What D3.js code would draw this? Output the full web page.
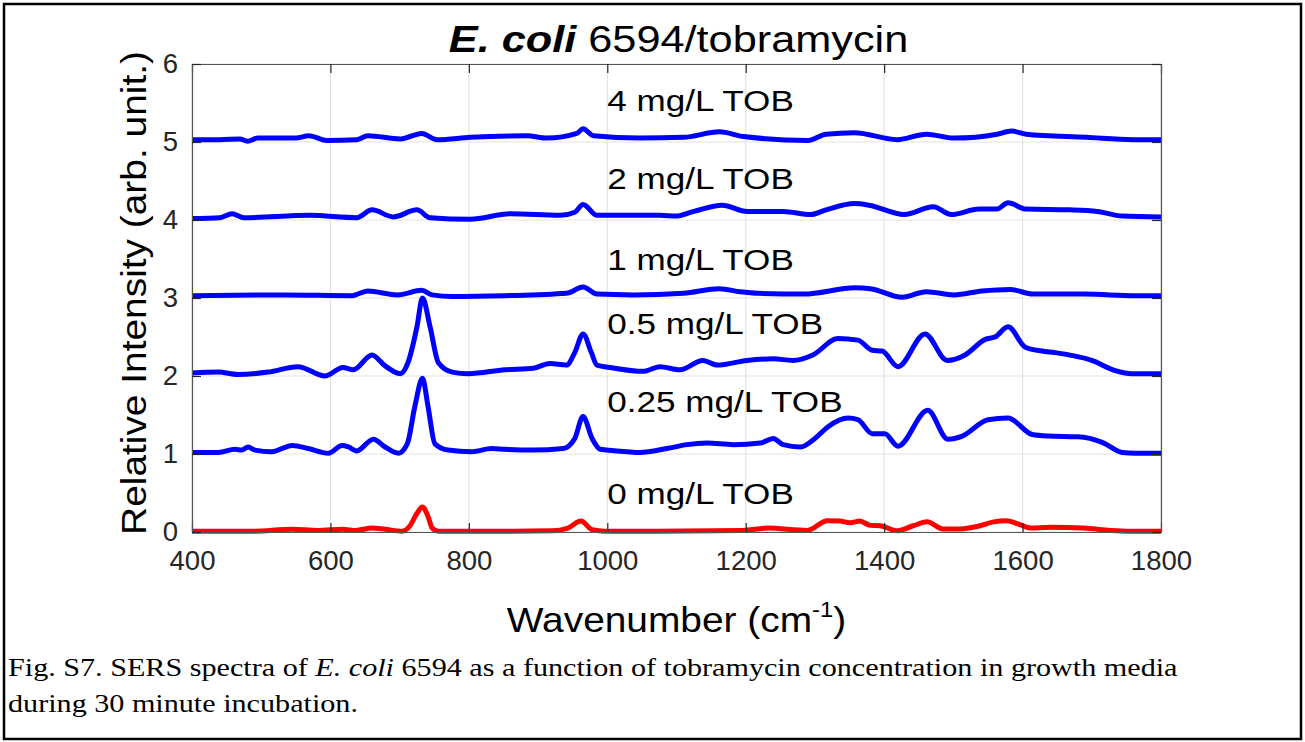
<!DOCTYPE html>
<html>
<head>
<meta charset="utf-8">
<script src="https://cdn.jsdelivr.net/npm/d3@7"></script>
<style>
  body { margin: 0; background: #fff; }
  svg { display: block; }
</style>
</head>
<body>
<div id="chart"></div>
<script>
// spectra, [wavenumber, plotted intensity] (already offset as in the figure)
var tob0 = [[400,0.01],[487,0.01],[545,0.035],[582,0.02],[618,0.035],[636,0.02],[660,0.05],[679,0.035],[703,0.01],[715,0.08],[725,0.24],[733,0.32],[741,0.2],[747,0.05],[756,0.01],[823,0.01],[920,0.015],[943,0.05],[962,0.14],[978,0.03],[997,0.01],[1069,0.01],[1196,0.02],[1231,0.05],[1289,0.02],[1318,0.145],[1336,0.14],[1351,0.12],[1365,0.14],[1380,0.085],[1394,0.08],[1419,0.015],[1442,0.08],[1462,0.13],[1485,0.04],[1510,0.04],[1534,0.07],[1558,0.13],[1577,0.145],[1596,0.095],[1611,0.05],[1640,0.06],[1688,0.05],[1727,0.02],[1756,0.01],[1800,0.01]];
var tob025 = [[400,1.02],[438,1.02],[462,1.06],[472,1.05],[481,1.09],[491,1.05],[515,1.03],[545,1.11],[568,1.07],[597,1.01],[617,1.11],[626,1.09],[638,1.04],[662,1.19],[679,1.09],[698,1.01],[711,1.13],[722,1.61],[733,1.97],[741,1.61],[751,1.13],[770,1.05],[804,1.03],[833,1.07],[852,1.06],[893,1.05],[936,1.07],[953,1.2],[965,1.48],[978,1.2],[990,1.06],[1028,1.03],[1047,1.02],[1086,1.07],[1115,1.12],[1144,1.14],[1182,1.12],[1221,1.14],[1240,1.2],[1254,1.12],[1279,1.09],[1300,1.2],[1319,1.35],[1348,1.46],[1362,1.44],[1383,1.26],[1401,1.26],[1420,1.1],[1463,1.56],[1492,1.19],[1513,1.23],[1550,1.44],[1579,1.46],[1614,1.25],[1637,1.23],[1680,1.22],[1715,1.15],[1744,1.02],[1763,1.01],[1800,1.01]];
var tob05 = [[400,2.04],[438,2.05],[466,2.02],[510,2.05],[553,2.12],[592,2.0],[618,2.11],[633,2.08],[660,2.27],[679,2.13],[701,2.03],[712,2.17],[725,2.63],[733,3.0],[744,2.63],[756,2.17],[776,2.05],[799,2.03],[852,2.08],[893,2.1],[917,2.16],[941,2.14],[953,2.3],[965,2.54],[977,2.3],[985,2.14],[1004,2.11],[1052,2.06],[1076,2.12],[1105,2.08],[1138,2.2],[1159,2.14],[1202,2.2],[1240,2.22],[1268,2.2],[1297,2.27],[1333,2.48],[1362,2.46],[1383,2.33],[1397,2.32],[1420,2.12],[1459,2.54],[1491,2.2],[1517,2.27],[1546,2.47],[1560,2.5],[1579,2.63],[1604,2.37],[1628,2.32],[1647,2.3],[1700,2.2],[1734,2.07],[1758,2.03],[1800,2.03]];
var tob1 = [[400,3.03],[534,3.04],[631,3.03],[654,3.09],[697,3.04],[732,3.1],[747,3.04],[776,3.02],[852,3.03],[941,3.06],[965,3.14],[985,3.05],[1037,3.04],[1110,3.06],[1162,3.12],[1192,3.08],[1218,3.06],[1284,3.05],[1358,3.13],[1380,3.12],[1426,3.01],[1461,3.08],[1501,3.04],[1541,3.09],[1582,3.11],[1615,3.05],[1690,3.05],[1763,3.03],[1800,3.03]];
var tob2 = [[400,4.02],[440,4.03],[458,4.08],[475,4.03],[570,4.06],[638,4.03],[660,4.13],[691,4.04],[725,4.13],[744,4.03],[802,4.01],[860,4.08],[932,4.06],[953,4.1],[965,4.2],[985,4.06],[1076,4.06],[1099,4.05],[1125,4.11],[1166,4.19],[1202,4.11],[1254,4.11],[1294,4.07],[1316,4.13],[1357,4.21],[1378,4.19],[1429,4.07],[1471,4.17],[1497,4.07],[1537,4.14],[1563,4.14],[1579,4.22],[1605,4.14],[1667,4.13],[1708,4.11],[1744,4.05],[1800,4.04]];
var tob4 = [[400,5.03],[440,5.03],[469,5.04],[480,5.01],[495,5.05],[550,5.05],[569,5.08],[595,5.02],[638,5.03],[654,5.08],[701,5.04],[732,5.11],[754,5.03],[802,5.06],[884,5.08],[913,5.05],[956,5.11],[965,5.17],[980,5.08],[1047,5.05],[1110,5.06],[1162,5.13],[1197,5.07],[1290,5.02],[1316,5.1],[1357,5.12],[1419,5.03],[1461,5.1],[1501,5.05],[1563,5.1],[1584,5.14],[1605,5.1],[1692,5.06],[1760,5.03],[1800,5.03]];

var series = [tob0, tob025, tob05, tob1, tob2, tob4];
var colors = ["#ff0000", "#0000ff", "#0000ff", "#0000ff", "#0000ff", "#0000ff"];

var labels = ["0 mg/L TOB", "0.25 mg/L TOB", "0.5 mg/L TOB", "1 mg/L TOB", "2 mg/L TOB", "4 mg/L TOB"];
var labelY = [0.5, 1.67, 2.67, 3.5, 4.53, 5.53];
var labelX = 1000;

var xTicks = [400, 600, 800, 1000, 1200, 1400, 1600, 1800];
var yTicks = [0, 1, 2, 3, 4, 5, 6];

var width = 1305, height = 742;
var margin = { top: 64, right: 144, bottom: 210, left: 192 };
var sans = "'Liberation Sans', Arial, sans-serif";
var sx = 1.17; // the figure is a bit wider than tall, text too

var svg = d3.select("#chart").append("svg")
    .attr("width", width).attr("height", height);

// stretch a text horizontally around its own anchor point
function stretch(sel, k) {
    sel.each(function() {
        var t = d3.select(this);
        var tx = +t.attr("x") || 0, ty = +t.attr("y") || 0;
        t.attr("x", null).attr("y", null)
         .attr("transform", "translate(" + tx + "," + ty + ") scale(" + k + ",1)");
    });
}

// outer frame of the figure
svg.append("rect")
    .attr("x", 4).attr("y", 4)
    .attr("width", width - 8).attr("height", height - 7)
    .attr("fill", "none").attr("stroke", "#000").attr("stroke-width", 2.5);

var x = d3.scaleLinear().domain([400, 1800]).range([margin.left, width - margin.right]);
var y = d3.scaleLinear().domain([0, 6]).range([height - margin.bottom, margin.top]);

// grid
svg.append("g").selectAll("line").data(xTicks).enter().append("line")
    .attr("x1", function(d) { return x(d); }).attr("x2", function(d) { return x(d); })
    .attr("y1", y(0)).attr("y2", y(6))
    .attr("stroke", "#e3e3e3").attr("stroke-width", 1.2);
svg.append("g").selectAll("line").data(yTicks).enter().append("line")
    .attr("y1", function(d) { return y(d); }).attr("y2", function(d) { return y(d); })
    .attr("x1", x(400)).attr("x2", x(1800))
    .attr("stroke", "#e3e3e3").attr("stroke-width", 1.2);

// spectra
var line = d3.line()
    .x(function(d) { return x(d[0]); })
    .y(function(d) { return y(d[1]); })
    .curve(d3.curveMonotoneX);

svg.append("g").selectAll("path").data(series).enter().append("path")
    .attr("d", line)
    .attr("fill", "none")
    .attr("stroke", function(d, i) { return colors[i]; })
    .attr("stroke-width", 5)
    .attr("stroke-linejoin", "round");

// axes (box with inward ticks)
var axisColor = "#555";
function styleAxis(g) {
    g.select(".domain").attr("stroke", axisColor).attr("stroke-width", 1.2);
    g.selectAll(".tick line").attr("stroke", "#262626").attr("stroke-width", 1.2);
    g.selectAll("text").attr("fill", "#262626")
        .style("font-family", sans)
        .style("font-size", "27px");
}

var fmt = d3.format("d");
svg.append("g")
    .attr("transform", "translate(0," + y(0) + ")")
    .call(d3.axisBottom(x).tickValues(xTicks).tickFormat(fmt).tickSizeInner(-9).tickSizeOuter(0).tickPadding(17))
    .call(styleAxis)
    .selectAll("text").attr("dy", "0.78em").call(stretch, 1.02);
svg.append("g")
    .attr("transform", "translate(0," + y(6) + ")")
    .call(d3.axisTop(x).tickValues(xTicks).tickSizeInner(-9).tickSizeOuter(0).tickFormat(""))
    .call(styleAxis);
svg.append("g")
    .attr("transform", "translate(" + x(400) + ",0)")
    .call(d3.axisLeft(y).tickValues(yTicks).tickFormat(fmt).tickSizeInner(-9).tickSizeOuter(0).tickPadding(14))
    .call(styleAxis)
    .selectAll("text").attr("dy", "0.3em").call(stretch, 1.02);
svg.append("g")
    .attr("transform", "translate(" + x(1800) + ",0)")
    .call(d3.axisRight(y).tickValues(yTicks).tickSizeInner(-9).tickSizeOuter(0).tickFormat(""))
    .call(styleAxis);

// series labels
svg.append("g").selectAll("text").data(labels).enter().append("text")
    .attr("x", x(labelX))
    .attr("y", function(d, i) { return y(labelY[i]); })
    .attr("dy", "0.35em")
    .style("font-family", sans)
    .style("font-size", "30px")
    .attr("fill", "#000")
    .text(function(d) { return d; })
    .call(stretch, sx);

// title
var title = svg.append("text")
    .attr("x", (x(400) + x(1800)) / 2 + 2)
    .attr("y", 52)
    .attr("text-anchor", "middle")
    .style("font-family", sans)
    .style("font-size", "37px");
title.append("tspan").style("font-weight", "bold").style("font-style", "italic").text("E. coli");
title.append("tspan").text(" 6594/tobramycin");
title.call(stretch, sx);

// axis titles
var xTitle = svg.append("text")
    .attr("x", (x(400) + x(1800)) / 2)
    .attr("y", 632)
    .attr("text-anchor", "middle")
    .style("font-family", sans)
    .style("font-size", "36px");
xTitle.append("tspan").text("Wavenumber (cm");
xTitle.append("tspan").attr("dy", -15).style("font-size", "22px").text("-1");
xTitle.append("tspan").attr("dy", 15).text(")");
xTitle.call(stretch, 1.08);

svg.append("text")
    .attr("transform", "translate(146," + ((y(0) + y(6)) / 2 - 5) + ") rotate(-90) scale(1.08,1)")
    .attr("text-anchor", "middle")
    .style("font-family", sans)
    .style("font-size", "36px")
    .text("Relative Intensity (arb. unit.)");

// caption
var cap = svg.append("g")
    .style("font-family", "'Liberation Serif', 'Times New Roman', serif")
    .style("font-size", "26px");
var c1 = cap.append("text").attr("x", 8).attr("y", 676);
c1.append("tspan").text("Fig. S7. SERS spectra of ");
c1.append("tspan").style("font-style", "italic").text("E. coli");
c1.append("tspan").text(" 6594 as a function of tobramycin concentration in growth media");
cap.append("text").attr("x", 8).attr("y", 712).text("during 30 minute incubation.");
cap.selectAll("text").call(stretch, 1.16);
</script>
</body>
</html>
